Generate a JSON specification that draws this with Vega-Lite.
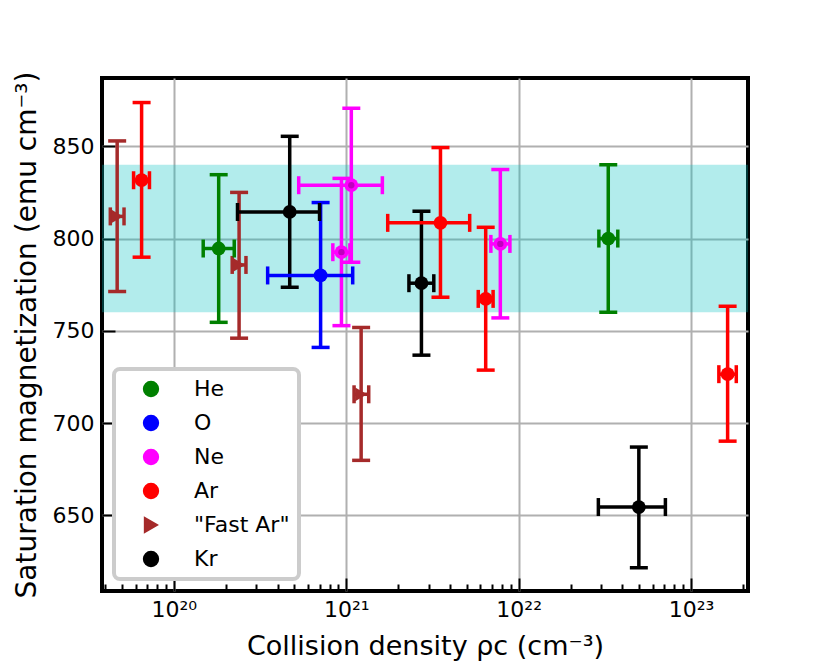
{
  "$schema": "https://vega.github.io/schema/vega-lite/v6.json",
  "width": 646,
  "height": 513,
  "autosize": {"type": "none"},
  "padding": {"left": 102, "top": 78, "right": 82, "bottom": 73},
  "datasets": {
    "band": [{"lo": 760, "hi": 840}],
    "pts": [
      {"s": "He", "x": 1.82e20, "xlo": 1.48e20, "xhi": 2.24e20, "y": 794.6, "ylo": 754.6, "yhi": 834.6},
      {"s": "He", "x": 3.31e22, "xlo": 2.92e22, "xhi": 3.76e22, "y": 800, "ylo": 760, "yhi": 840},
      {"s": "O", "x": 7.1e20, "xlo": 3.5e20, "xhi": 1.09e21, "y": 780, "ylo": 741, "yhi": 819.5},
      {"s": "Ne", "x": 9.38e20, "xlo": 8.36e20, "xhi": 1.05e21, "y": 792.6, "ylo": 752.8, "yhi": 832.6},
      {"s": "Ne", "x": 1.07e21, "xlo": 5.3e20, "xhi": 1.62e21, "y": 828.9, "ylo": 787.2, "yhi": 870.6},
      {"s": "Ne", "x": 7.83e21, "xlo": 6.9e21, "xhi": 8.9e21, "y": 797.1, "ylo": 757, "yhi": 837.4},
      {"s": "Ar", "x": 6.5e19, "xlo": 5.84e19, "xhi": 7.22e19, "y": 831.6, "ylo": 789.9, "yhi": 873.7},
      {"s": "Ar", "x": 3.52e21, "xlo": 1.74e21, "xhi": 5.2e21, "y": 808.5, "ylo": 768.2, "yhi": 849.3},
      {"s": "Ar", "x": 6.44e21, "xlo": 5.83e21, "xhi": 7.11e21, "y": 767.3, "ylo": 728.7, "yhi": 806.1},
      {"s": "Ar", "x": 1.63e23, "xlo": 1.45e23, "xhi": 1.83e23, "y": 726.5, "ylo": 690.2, "yhi": 763.3},
      {"s": "\"Fast Ar\"", "x": 4.69e19, "xlo": 4.28e19, "xhi": 5.14e19, "y": 812, "ylo": 771.3, "yhi": 852.9},
      {"s": "\"Fast Ar\"", "x": 2.39e20, "xlo": 2.18e20, "xhi": 2.62e20, "y": 785.7, "ylo": 746, "yhi": 825},
      {"s": "\"Fast Ar\"", "x": 1.22e21, "xlo": 1.11e21, "xhi": 1.35e21, "y": 715.6, "ylo": 679.8, "yhi": 751.8},
      {"s": "Kr", "x": 4.7e20, "xlo": 2.34e20, "xhi": 7.0e20, "y": 814.4, "ylo": 773.6, "yhi": 855.4},
      {"s": "Kr", "x": 2.73e21, "xlo": 2.31e21, "xhi": 3.22e21, "y": 775.8, "ylo": 736.8, "yhi": 814.8},
      {"s": "Kr", "x": 4.98e22, "xlo": 2.9e22, "xhi": 7.1e22, "y": 654.5, "ylo": 621.6, "yhi": 687}
    ]
  },
  "layer": [
    {
      "data": {"name": "band"},
      "mark": {"type": "rect", "color": "#00bfbf", "opacity": 0.3},
      "encoding": {
        "y": {"field": "lo", "type": "quantitative", "scale": {"domain": [609, 887]}},
        "y2": {"field": "hi"}
      }
    },
    {
      "data": {"name": "pts"},
      "mark": {"type": "rule", "strokeWidth": 3.5, "opacity": 1},
      "encoding": {
        "x": {
          "field": "x", "type": "quantitative",
          "scale": {"type": "log", "domain": [3.83e19, 2.14e23]},
          "axis": {
            "title": "Collision density ρc (cm⁻³)",
            "values": [4e19, 5e19, 6e19, 7e19, 8e19, 9e19, 1e20, 2e20, 3e20, 4e20, 5e20, 6e20, 7e20, 8e20, 9e20, 1e21, 2e21, 3e21, 4e21, 5e21, 6e21, 7e21, 8e21, 9e21, 1e22, 2e22, 3e22, 4e22, 5e22, 6e22, 7e22, 8e22, 9e22, 1e23, 2e23],
            "labelExpr": "datum.value == 1e20 ? '10²⁰' : datum.value == 1e21 ? '10²¹' : datum.value == 1e22 ? '10²²' : datum.value == 1e23 ? '10²³' : ''",
            "gridOpacity": {"condition": {"test": "indexof([1e20, 1e21, 1e22, 1e23], datum.value) >= 0", "value": 1}, "value": 0},
            "tickDash": {"condition": {"test": "indexof([1e20, 1e21, 1e22, 1e23], datum.value) >= 0", "value": [100, 0]}, "value": [7, 40]},
            "tickSize": -13,
            "labelFontSize": 22,
            "titleFontSize": 27,
            "labelPadding": 21,
            "titlePadding": 13
          }
        },
        "y": {
          "field": "ylo", "type": "quantitative",
          "scale": {"domain": [609, 887]},
          "axis": {
            "title": "Saturation magnetization (emu cm⁻³)",
            "values": [650, 700, 750, 800, 850],
            "tickSize": -13,
            "labelFontSize": 22,
            "titleFontSize": 28,
            "labelPadding": 21,
            "titlePadding": 11
          }
        },
        "y2": {"field": "yhi"},
        "color": {
          "field": "s", "type": "nominal",
          "scale": {"domain": ["He", "O", "Ne", "Ar", "\"Fast Ar\"", "Kr"], "range": ["#008000", "#0000ff", "#ff00ff", "#ff0000", "#a52a2a", "#000000"]}
        }
      }
    },
    {
      "data": {"name": "pts"},
      "mark": {"type": "rule", "strokeWidth": 3.5, "opacity": 1},
      "encoding": {
        "x": {"field": "xlo", "type": "quantitative", "scale": {"type": "log", "domain": [3.83e19, 2.14e23]}},
        "x2": {"field": "xhi"},
        "y": {"field": "y", "type": "quantitative", "scale": {"domain": [609, 887]}},
        "color": {"field": "s", "type": "nominal"}
      }
    },
    {
      "data": {"name": "pts"},
      "mark": {"type": "tick", "orient": "horizontal", "thickness": 3.5, "size": 18, "opacity": 1},
      "encoding": {
        "x": {"field": "x", "type": "quantitative", "scale": {"type": "log", "domain": [3.83e19, 2.14e23]}},
        "y": {"field": "ylo", "type": "quantitative", "scale": {"domain": [609, 887]}},
        "color": {"field": "s", "type": "nominal"}
      }
    },
    {
      "data": {"name": "pts"},
      "mark": {"type": "tick", "orient": "horizontal", "thickness": 3.5, "size": 18, "opacity": 1},
      "encoding": {
        "x": {"field": "x", "type": "quantitative", "scale": {"type": "log", "domain": [3.83e19, 2.14e23]}},
        "y": {"field": "yhi", "type": "quantitative", "scale": {"domain": [609, 887]}},
        "color": {"field": "s", "type": "nominal"}
      }
    },
    {
      "data": {"name": "pts"},
      "mark": {"type": "tick", "orient": "vertical", "thickness": 3.5, "size": 18, "opacity": 1},
      "encoding": {
        "x": {"field": "xlo", "type": "quantitative", "scale": {"type": "log", "domain": [3.83e19, 2.14e23]}},
        "y": {"field": "y", "type": "quantitative", "scale": {"domain": [609, 887]}},
        "color": {"field": "s", "type": "nominal"}
      }
    },
    {
      "data": {"name": "pts"},
      "mark": {"type": "tick", "orient": "vertical", "thickness": 3.5, "size": 18, "opacity": 1},
      "encoding": {
        "x": {"field": "xhi", "type": "quantitative", "scale": {"type": "log", "domain": [3.83e19, 2.14e23]}},
        "y": {"field": "y", "type": "quantitative", "scale": {"domain": [609, 887]}},
        "color": {"field": "s", "type": "nominal"}
      }
    },
    {
      "data": {"name": "pts"},
      "mark": {"type": "point", "filled": true, "size": 190, "opacity": 1},
      "encoding": {
        "x": {"field": "x", "type": "quantitative", "scale": {"type": "log", "domain": [3.83e19, 2.14e23]}},
        "y": {"field": "y", "type": "quantitative", "scale": {"domain": [609, 887]}},
        "color": {
          "field": "s", "type": "nominal",
          "legend": {
            "title": null,
            "orient": "bottom-left",
            "offset": 12,
            "padding": 9,
            "symbolOffset": 17,
            "strokeColor": "#cccccc",
            "cornerRadius": 6,
            "fillColor": "white",
            "labelFontSize": 22,
            "labelColor": "black",
            "symbolSize": 220,
            "symbolOpacity": 1,
            "labelOffset": 32,
            "rowPadding": 12
          }
        },
        "shape": {
          "field": "s", "type": "nominal",
          "scale": {"domain": ["He", "O", "Ne", "Ar", "\"Fast Ar\"", "Kr"], "range": ["circle", "circle", "circle", "circle", "triangle-right", "circle"]}
        }
      }
    },
    {
      "data": {"name": "pts"},
      "transform": [{"filter": "datum.s == 'Ne'"}],
      "mark": {"type": "point", "filled": true, "size": 40, "opacity": 1, "color": "#bf00bf"},
      "encoding": {
        "x": {"field": "x", "type": "quantitative", "scale": {"type": "log", "domain": [3.83e19, 2.14e23]}},
        "y": {"field": "y", "type": "quantitative", "scale": {"domain": [609, 887]}}
      }
    }
  ],
  "config": {
    "font": "DejaVu Sans",
    "view": {"stroke": "black", "strokeWidth": 4},
    "legend": {"strokeWidth": 4},
    "axis": {
      "domain": false,
      "grid": true,
      "gridColor": "#b0b0b0",
      "gridWidth": 2,
      "tickColor": "black",
      "tickWidth": 2,
      "labelColor": "black",
      "labelFlush": false,
      "labelOverlap": false,
      "titleFontWeight": "normal",
      "titleColor": "black"
    }
  }
}
